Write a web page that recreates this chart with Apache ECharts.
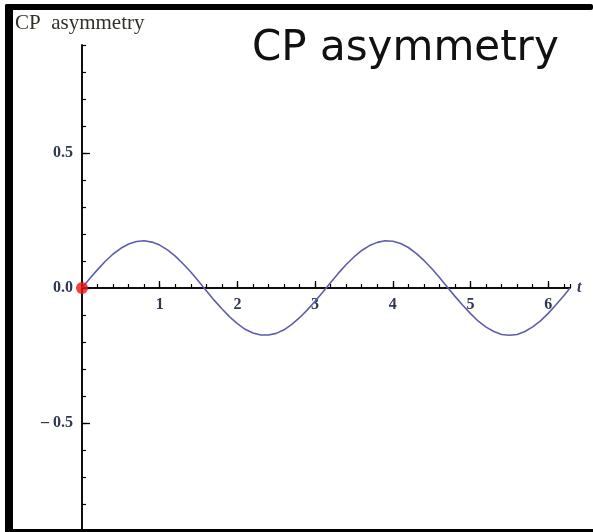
<!DOCTYPE html>
<html>
<head>
<meta charset="utf-8">
<script src="https://cdn.jsdelivr.net/npm/echarts@6/dist/echarts.min.js"></script>
<style>
  html, body { margin: 0; padding: 0; background: #fff; }
  #chart { width: 593px; height: 532px; }
</style>
</head>
<body>
<div id="chart"></div>
<script>
// CP asymmetry versus time t over 0..2π (two full oscillations)
const tValues = [0, 0.1, 0.2, 0.3, 0.4, 0.5, 0.6, 0.7, 0.8, 0.9, 1.0, 1.1, 1.2, 1.3, 1.4, 1.5, 1.6, 1.7,
                 1.8, 1.9, 2.0, 2.1, 2.2, 2.3, 2.4, 2.5, 2.6, 2.7, 2.8, 2.9, 3.0, 3.1, 3.2, 3.3, 3.4, 3.5,
                 3.6, 3.7, 3.8, 3.9, 4.0, 4.1, 4.2, 4.3, 4.4, 4.5, 4.6, 4.7, 4.8, 4.9, 5.0, 5.1, 5.2, 5.3,
                 5.4, 5.5, 5.6, 5.7, 5.8, 5.9, 6.0, 6.1, 6.2, 6.28];
const asymmetry = [0, 0.035, 0.068, 0.099, 0.126, 0.147, 0.163, 0.172, 0.175, 0.170, 0.159, 0.141, 0.118,
                   0.090, 0.059, 0.025, -0.010, -0.045, -0.077, -0.107, -0.132, -0.153, -0.167, -0.174,
                   -0.174, -0.168, -0.155, -0.135, -0.110, -0.081, -0.049, -0.015, 0.020, 0.055, 0.087,
                   0.115, 0.139, 0.157, 0.169, 0.175, 0.173, 0.165, 0.150, 0.128, 0.102, 0.072, 0.039,
                   0.004, -0.031, -0.064, -0.095, -0.123, -0.145, -0.161, -0.172, -0.175, -0.172, -0.161,
                   -0.144, -0.122, -0.094, -0.062, -0.029, 0];
const startPoint = [[0, 0]];
const xMajorTicks = [1, 2, 3, 4, 5, 6];
const xTickLabels = ['1', '2', '3', '4', '5', '6'];
const yMajorTicks = [-0.5, 0, 0.5];
const yTickLabels = ['\u2013 0.5', '0.0', '0.5'];

const tickFont = 'Liberation Serif';
const labelColor = '#2f3852';

// plot box: the time axis sits on y = 0, halfway down the -0.9..0.9 range
const gridTop = 45, gridBottom = 1, chartHeight = 532;
const zeroShift = -(chartHeight - gridTop - gridBottom) / 2;

const chart = echarts.init(document.getElementById('chart'), null, { renderer: 'canvas' });

const xBase = {
  type: 'value', min: 0, max: 6.28, position: 'bottom', offset: zeroShift,
  axisLine: { onZero: false, lineStyle: { color: '#000', width: 1.5 } },
  splitLine: { show: false }
};
const yBase = {
  type: 'value', min: -0.9, max: 0.9, position: 'left',
  axisLine: { onZero: false, lineStyle: { color: '#000', width: 1.5 } },
  splitLine: { show: false }
};

chart.setOption({
  animation: false,
  backgroundColor: '#fff',
  grid: { left: 82, right: 23, top: gridTop, bottom: gridBottom, containLabel: false, outerBoundsMode: 'none' },
  xAxis: [
    Object.assign({}, xBase, {
      axisTick: { inside: true, length: 7, customValues: xMajorTicks, lineStyle: { color: '#000', width: 1.3 } },
      axisLabel: {
        margin: 9, fontFamily: tickFont, fontSize: 16, fontWeight: 'bold', color: labelColor,
        customValues: xMajorTicks,
        formatter: v => xTickLabels[xMajorTicks.indexOf(Math.round(v))] || ''
      },
      name: 't', nameLocation: 'end', nameGap: 7,
      nameTextStyle: { fontFamily: tickFont, fontStyle: 'italic', fontWeight: 'bold', fontSize: 16, color: labelColor }
    }),
    Object.assign({}, xBase, {
      interval: 0.2,
      axisTick: { inside: true, length: 4, lineStyle: { color: '#000', width: 1.2 } },
      axisLabel: { show: false }
    })
  ],
  yAxis: [
    Object.assign({}, yBase, {
      axisTick: { inside: true, length: 8, customValues: yMajorTicks, lineStyle: { color: '#000', width: 1.3 } },
      axisLabel: {
        margin: 9, fontFamily: tickFont, fontSize: 16, fontWeight: 'bold', color: labelColor,
        customValues: yMajorTicks,
        formatter: v => {
          const i = yMajorTicks.findIndex(m => Math.abs(m - v) < 1e-6);
          return i < 0 ? '' : yTickLabels[i];
        }
      }
    }),
    Object.assign({}, yBase, {
      interval: 0.1,
      axisTick: { inside: true, length: 4, lineStyle: { color: '#000', width: 1.2 } },
      axisLabel: { show: false }
    })
  ],
  series: [
    {
      type: 'line',
      xAxisIndex: 0, yAxisIndex: 0,
      data: tValues.map((t, i) => [t, asymmetry[i]]),
      smooth: false,
      showSymbol: false,
      lineStyle: { color: '#5e5eb0', width: 1.6 },
      z: 3
    },
    {
      type: 'scatter',
      xAxisIndex: 0, yAxisIndex: 0,
      data: startPoint,
      symbolSize: 12,
      itemStyle: { color: '#ee1111' },
      z: 5
    }
  ],
  graphic: [
    // picture frame
    { type: 'rect', shape: { x: 5, y: 4, width: 588, height: 6, r: 2 }, style: { fill: '#000' }, z: 100 },
    { type: 'rect', shape: { x: 5, y: 4, width: 8, height: 528, r: 2 }, style: { fill: '#000' }, z: 100 },
    { type: 'rect', shape: { x: 5, y: 529, width: 588, height: 3 }, style: { fill: '#000' }, z: 100 },
    // axis caption
    { type: 'text', left: 15, top: 13, z: 50,
      style: { text: 'CP  asymmetry', font: '21px "Liberation Serif"', fill: '#33302a' } },
    // heading
    { type: 'text', left: 252, top: 28, z: 50,
      style: { text: 'CP asymmetry', font: '42px "DejaVu Sans"', fill: '#111' } }
  ]
});
</script>
</body>
</html>
